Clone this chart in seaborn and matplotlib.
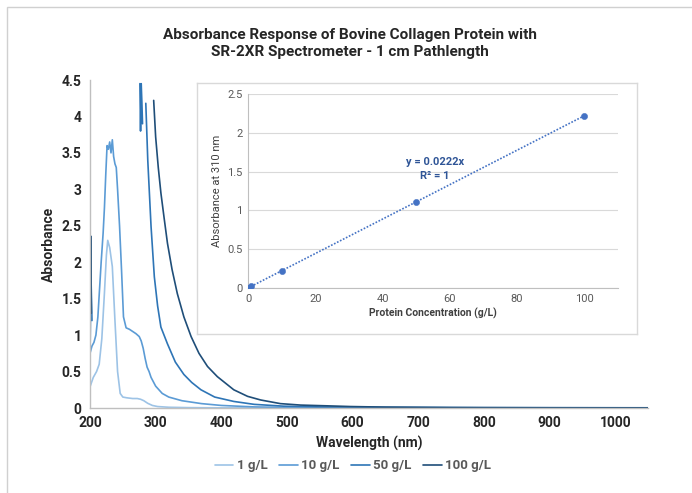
import numpy as np
import pandas as pd
import matplotlib.pyplot as plt
import seaborn as sns
from matplotlib.patches import Rectangle
from matplotlib.ticker import FuncFormatter, MultipleLocator

# Spectra (wavelength nm, absorbance); NaN = off-scale gap
wl_1 = [200, 205, 210, 214, 218, 222, 225, 227, 230, 234, 238, 242, 246, 250, 256, 265, 272, 277, 282, 288, 295, 303, 320, 350, 400, 500, 700, 1050]
abs_1 = [0.29, 0.42, 0.5, 0.6, 0.95, 1.58, 2.1, 2.3, 2.2, 1.94, 1.2, 0.5, 0.2, 0.15, 0.14, 0.13, 0.13, 0.12, 0.1, 0.064, 0.035, 0.02, 0.01, 0.005, 0.002, 0.001, 0.0, 0.0]

wl_10 = [200, 203, 206, 209, 212, 214, 217, 220, 222, 224, 226, 228, 230, 232, 234, 236, 238, 240, 242, 245, 248, 251, 255, 260, 265, 270, 275, 278, 281, 284, 287, 290, 293, 300, 310, 320, 340, 370, 400, 450, 500, 600, 800, 1050]
abs_10 = [0.75, 0.85, 0.9, 1.0, 1.25, 1.55, 2.0, 2.4, 2.75, 3.2, 3.6, 3.55, 3.65, 3.5, 3.68, 3.45, 3.35, 3.3, 3.0, 2.5, 1.9, 1.25, 1.1, 1.08, 1.05, 1.02, 0.98, 0.92, 0.82, 0.68, 0.56, 0.5, 0.42, 0.3, 0.2, 0.15, 0.1, 0.06, 0.035, 0.015, 0.007, 0.003, 0.001, 0.0]

wl_50 = [200, 201.5, 203, np.nan, 276, 277, 278, 279, 280, np.nan, 285, 288, 293, 298, 303, 308, 318, 330, 343, 355, 369, 390, 419, 450, 495, 550, 650, 800, 1050]
abs_50 = [0.7, 1.8, 1.2, np.nan, 4.45, 3.8, 4.45, 4.2, 3.9, np.nan, 4.18, 3.4, 2.49, 1.8, 1.4, 1.11, 0.88, 0.63, 0.46, 0.35, 0.25, 0.15, 0.09, 0.05, 0.025, 0.015, 0.01, 0.005, 0.003]

wl_100 = [200, 201, 202, np.nan, 297, 300, 304, 308, 313, 318, 325, 333, 343, 354, 366, 379, 394, 419, 440, 460, 490, 521, 560, 597, 650, 750, 900, 1050]
abs_100 = [0.9, 2.36, 1.3, np.nan, 4.22, 3.72, 3.3, 2.95, 2.6, 2.26, 1.9, 1.57, 1.25, 0.98, 0.75, 0.57, 0.43, 0.25, 0.16, 0.11, 0.06, 0.04, 0.03, 0.02, 0.012, 0.006, 0.003, 0.002]

series_names = ["1 g/L", "10 g/L", "50 g/L", "100 g/L"]
colors = ["#9DC3E6", "#5B9BD5", "#2E75B6", "#1F4E79"]

# Calibration (inset)
conc = np.array([0, 1, 10, 50, 100])
abs310 = np.array([0.0, 0.0222, 0.222, 1.11, 2.22])

frames = []
for name, w, a in zip(series_names, [wl_1, wl_10, wl_50, wl_100], [abs_1, abs_10, abs_50, abs_100]):
    d = pd.DataFrame({"wl": w, "A": a})
    d["seg"] = d["wl"].isna().cumsum()
    d["conc"] = name
    frames.append(d.dropna())
df = pd.concat(frames, ignore_index=True)

sns.set_theme(style="white")
plt.rcParams["font.family"] = ["Roboto", "DejaVu Sans"]

fig = plt.figure(figsize=(6.92, 4.93), dpi=100)
W, H = 692, 493

# outer frame
fig.patches.append(Rectangle((7 / W, -0.2), 1.2, 1.2 - 7 / H, transform=fig.transFigure,
                             fill=False, edgecolor="#d0d0d0", linewidth=1.0))

ax = fig.add_axes([90 / W, 1 - 408 / H, (648 - 90) / W, (408 - 80) / H])
sns.lineplot(data=df, x="wl", y="A", hue="conc", units="seg", estimator=None, sort=False,
             palette=dict(zip(series_names, colors)), hue_order=series_names, linewidth=1.2, ax=ax)
ax.set_xlim(200, 1050)
ax.set_ylim(0, 4.5)
ax.set_xticks(np.arange(200, 1001, 100))
ax.yaxis.set_major_locator(MultipleLocator(0.5))
ax.yaxis.set_major_formatter(FuncFormatter(lambda v, p: f"{v:g}"))
for s in ["top", "right"]:
    ax.spines[s].set_visible(False)
for s in ["left", "bottom"]:
    ax.spines[s].set_color("#bfbfbf")
    ax.spines[s].set_linewidth(1.0)
ax.tick_params(length=0, labelsize=10, colors="#262626", pad=6)
for t in ax.get_xticklabels() + ax.get_yticklabels():
    t.set_fontweight("bold")
ax.set_xlabel("Wavelength (nm)", fontsize=10, fontweight="bold", color="#262626", labelpad=4)
ax.set_ylabel("Absorbance", fontsize=10, fontweight="bold", color="#262626", labelpad=4)

handles, labels = ax.get_legend_handles_labels()
ax.get_legend().remove()
fig.legend(handles, labels, loc="center", bbox_to_anchor=(353 / W, 1 - 466 / H), ncol=4, frameon=False,
           handlelength=1.4, handletextpad=0.25, columnspacing=0.9,
           prop={"weight": "bold", "size": 9.5}, labelcolor="#595959")

fig.suptitle("Absorbance Response of Bovine Collagen Protein with\nSR-2XR Spectrometer - 1 cm Pathlength",
             x=350 / W, y=1 - 28 / H, va="top", fontsize=11, fontweight="bold", color="#262626", linespacing=1.3)

# inset box
box = fig.add_axes([197 / W, 1 - 334 / H, (637 - 197) / W, (334 - 83) / H])
box.set_xticks([])
box.set_yticks([])
box.set_facecolor("white")
for s in box.spines.values():
    s.set_color("#d9d9d9")
    s.set_linewidth(1.0)

ins = fig.add_axes([248 / W, 1 - 288 / H, (618 - 248) / W, (288 - 94) / H])
slope = np.sum(conc * abs310) / np.sum(conc ** 2)
sns.lineplot(x=conc, y=slope * conc, ax=ins, color="#4472C4", linestyle=(0, (1, 1)), linewidth=1.2)
sns.scatterplot(x=conc, y=abs310, ax=ins, color="#4472C4", s=20, edgecolor="#4472C4", zorder=3)
ins.set_xlim(0, 110)
ins.set_ylim(0, 2.5)
ins.set_xticks(np.arange(0, 101, 20))
ins.yaxis.set_major_locator(MultipleLocator(0.5))
ins.yaxis.set_major_formatter(FuncFormatter(lambda v, p: f"{v:g}"))
ins.grid(axis="y", color="#d9d9d9", linewidth=0.8)
ins.set_axisbelow(True)
for s in ["top", "right"]:
    ins.spines[s].set_visible(False)
for s in ["left", "bottom"]:
    ins.spines[s].set_color("#bfbfbf")
    ins.spines[s].set_linewidth(0.8)
ins.tick_params(length=0, labelsize=8, colors="#595959", pad=4)
ins.set_xlabel("Protein Concentration (g/L)", fontsize=7.5, fontweight="bold", color="#404040", labelpad=3)
ins.set_ylabel("Absorbance at 310 nm", fontsize=8, color="#404040", labelpad=4)
ins.text(55.6, 1.63, f"y = {slope:.4f}x", ha="center", va="center", fontsize=8, fontweight="bold", color="#2F5597")
ins.text(55.6, 1.44, "R² = 1", ha="center", va="center", fontsize=8, fontweight="bold", color="#2F5597")

fig.savefig("out.png", dpi=100)
